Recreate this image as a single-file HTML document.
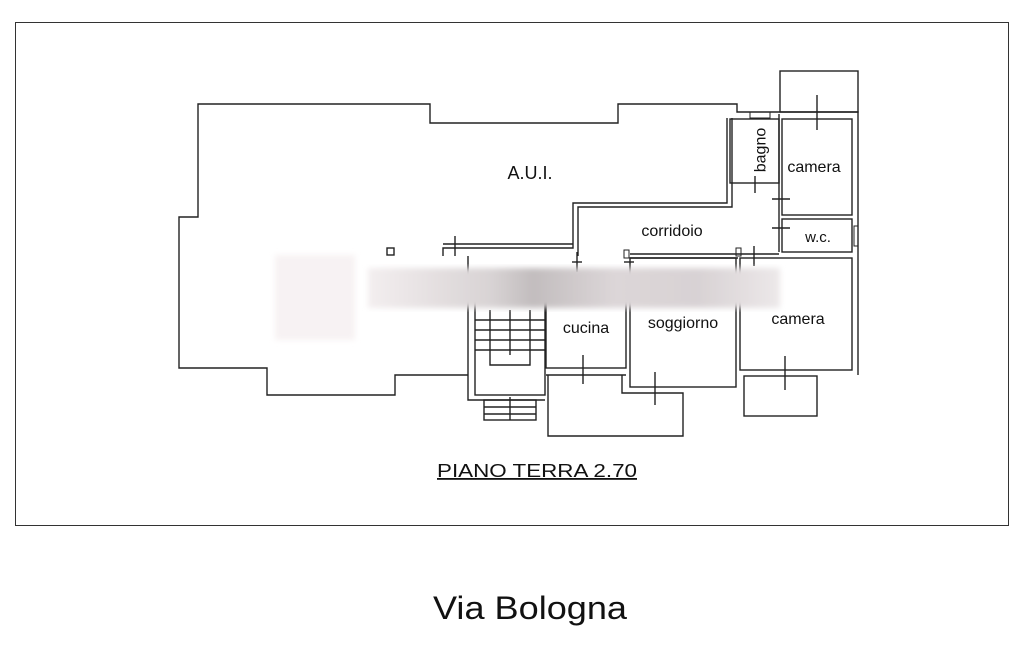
<!DOCTYPE html>
<html><head><meta charset="utf-8"><style>
html,body{margin:0;padding:0;background:#fff;}
svg{display:block;}
text{font-family:"Liberation Sans",sans-serif;fill:#111;}
</style></head><body>
<svg width="1024" height="646" viewBox="0 0 1024 646" xmlns="http://www.w3.org/2000/svg">
<defs>
<filter id="b"><feGaussianBlur stdDeviation="3"/></filter>
<linearGradient id="g1" x1="0" x2="1" y1="0" y2="0">
<stop offset="0" stop-color="#f3eeef"/><stop offset="0.3" stop-color="#d8d3d4"/><stop offset="0.4" stop-color="#c2bdbe"/><stop offset="0.6" stop-color="#dcd6d8"/><stop offset="0.8" stop-color="#d8d2d4"/><stop offset="1" stop-color="#ece8e9"/>
</linearGradient>
</defs>
<rect x="15.5" y="22.5" width="993" height="503" fill="none" stroke="#333" stroke-width="1"/>
<g fill="none" stroke="#222" stroke-width="1.4">
<polyline points="468,375 395,375 395,395 267,395 267,368 179,368 179,217 198,217 198,104 430,104 430,123 618,123 618,104 737,104 737,112 858,112 858,375"/>
<polyline points="727,118 727,203 573,203 573,248 443,248 443,256"/>
<polyline points="732,118 732,207 578,207 578,256"/>
<line x1="443" y1="244" x2="573" y2="244"/>
<rect x="387" y="248" width="7" height="7"/>
<rect x="780" y="71" width="78" height="41"/>
<line x1="817" y1="95" x2="817" y2="130"/>
<rect x="730" y="119" width="49" height="64"/>
<rect x="750" y="112" width="20" height="6" stroke-width="1"/>
<line x1="755" y1="176" x2="755" y2="193"/>
<rect x="782" y="119" width="70" height="96"/>
<line x1="779" y1="114" x2="779" y2="252"/>
<line x1="772" y1="199" x2="790" y2="199"/>
<line x1="772" y1="228" x2="790" y2="228"/>
<rect x="782" y="219" width="70" height="33"/>
<rect x="854" y="226" width="4" height="20" stroke-width="1"/>
<line x1="630" y1="254" x2="779" y2="254"/>
<line x1="630" y1="258" x2="738" y2="258"/>
<rect x="624" y="250" width="5" height="8" stroke-width="1"/>
<rect x="736" y="248" width="5" height="8" stroke-width="1"/>
<line x1="572" y1="262" x2="582" y2="262"/>
<line x1="577" y1="252" x2="577" y2="272"/>
<line x1="624" y1="262" x2="634" y2="262"/>
<line x1="754" y1="246" x2="754" y2="266"/>
<line x1="455" y1="236" x2="455" y2="256"/>
<rect x="740" y="258" width="112" height="112"/>
<line x1="785" y1="356" x2="785" y2="390"/>
<rect x="744" y="376" width="73" height="40"/>
<rect x="630" y="258" width="106" height="129"/>
<line x1="655" y1="372" x2="655" y2="405"/>
<polyline points="622,375 622,393 683,393 683,436 548,436 548,375"/>
<rect x="546" y="300" width="80" height="68"/>
<line x1="583" y1="355" x2="583" y2="384"/>
<line x1="546" y1="375" x2="626" y2="375"/>
<rect x="475" y="300" width="70" height="95"/>
<polyline points="468,256 468,400 545,400"/>
<polyline points="490,310 490,365 530,365 530,310"/>
<line x1="510" y1="310" x2="510" y2="355"/>
<line x1="475" y1="320" x2="545" y2="320"/>
<line x1="475" y1="330" x2="545" y2="330"/>
<line x1="475" y1="340" x2="545" y2="340"/>
<line x1="475" y1="350" x2="545" y2="350"/>
<rect x="484" y="400" width="52" height="20"/>
<line x1="484" y1="407" x2="536" y2="407"/>
<line x1="484" y1="414" x2="536" y2="414"/>
<line x1="510" y1="397" x2="510" y2="420"/>
</g>
<rect x="275" y="255" width="80" height="85" fill="#f7f2f3" filter="url(#b)"/>
<rect x="368" y="268" width="412" height="40" fill="url(#g1)" filter="url(#b)"/>
<text x="530" y="179" font-size="18" text-anchor="middle">A.U.I.</text>
<text x="672" y="236" font-size="16" text-anchor="middle">corridoio</text>
<text x="586" y="333" font-size="16" text-anchor="middle">cucina</text>
<text x="683" y="328" font-size="16" text-anchor="middle">soggiorno</text>
<text x="798" y="324" font-size="16" text-anchor="middle">camera</text>
<text x="814" y="172" font-size="16" text-anchor="middle">camera</text>
<text x="818" y="242" font-size="15" text-anchor="middle">w.c.</text>
<text transform="translate(761,150) rotate(-90)" font-size="16" text-anchor="middle" dominant-baseline="central">bagno</text>
<text x="437" y="477" font-size="18" textLength="200" lengthAdjust="spacingAndGlyphs" text-decoration="underline">PIANO TERRA 2.70</text>
<text x="433" y="619" font-size="32" textLength="194" lengthAdjust="spacingAndGlyphs">Via Bologna</text>
</svg>
</body></html>
